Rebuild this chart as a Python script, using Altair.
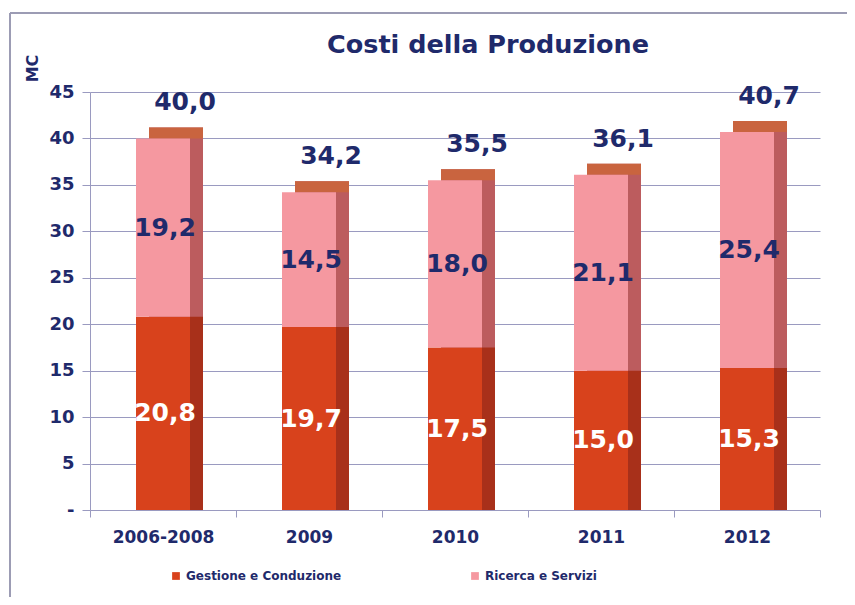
import altair as alt
import pandas as pd

categories = ["2006-2008", "2009", "2010", "2011", "2012"]
gestione = [20.8, 19.7, 17.5, 15.0, 15.3]
ricerca = [19.2, 14.5, 18.0, 21.1, 25.4]
totali = [40.0, 34.2, 35.5, 36.1, 40.7]
series = ["Gestione e Conduzione", "Ricerca e Servizi"]
title_text = "Costi della Produzione"

navy = "#1f2a6b"
grid_c = "#9a9ac0"

rows = []
for c, g, r in zip(categories, gestione, ricerca):
    rows.append(dict(cat=c, serie=series[0], v=g, y0=0.0, y1=g, mid=g / 2))
    rows.append(dict(cat=c, serie=series[1], v=r, y0=g, y1=g + r, mid=g + r / 2))
df = pd.DataFrame(rows)
tot = pd.DataFrame(dict(cat=categories, t=totali,
                        top=[g + r for g, r in zip(gestione, ricerca)]))

W, H = 730, 418
DX, DY = 13, 11

xenc = alt.X("cat:N", sort=categories,
             scale=alt.Scale(paddingInner=0, paddingOuter=0),
             axis=alt.Axis(title=None, labelFontSize=17, labelFontWeight="bold",
                           labelColor=navy, labelFont="DejaVu Sans", tickBand="extent",
                           domainColor=grid_c, tickColor=grid_c, tickSize=7,
                           labelPadding=12, labelAngle=0, grid=False))
yscale = alt.Scale(domain=[0, 45], nice=False)

base = alt.Chart(df)

shadow = base.mark_bar(size=54, xOffset=DX, yOffset=-DY).encode(
    x=xenc,
    y=alt.Y("y1:Q", scale=yscale,
            axis=alt.Axis(title="MC", values=list(range(0, 50, 5)),
                          labelExpr="datum.value == 0 ? '-' : datum.label",
                          labelFontSize=18, labelFontWeight="bold", labelColor=navy,
                          labelFont="DejaVu Sans", labelPadding=8,
                          domainColor=grid_c, tickColor=grid_c, tickSize=8,
                          grid=True, gridColor=grid_c, gridWidth=1,
                          titleAngle=270, titleX=-58, titleY=-24, titleFontSize=16,
                          titleFontWeight="bold", titleColor=navy, titleFont="DejaVu Sans",
                          titleAlign="center", titleBaseline="middle")),
    y2="y0:Q",
    color=alt.Color("serie:N", scale=alt.Scale(domain=series, range=["#a8301a", "#bc5c5e"]),
                    legend=None),
)

cap = alt.Chart(tot).mark_bar(size=54, xOffset=DX, yOffset=-DY, y2Offset=0,
                              color="#c9643f").encode(
    x=alt.X("cat:N", sort=categories),
    y=alt.Y("top:Q"),
    y2="top:Q",
)

front = base.mark_bar(size=54).encode(
    x=alt.X("cat:N", sort=categories),
    y=alt.Y("y1:Q"),
    y2="y0:Q",
    color=alt.Color("serie:N", scale=alt.Scale(domain=series, range=["#d8421c", "#f598a0"]),
                    legend=alt.Legend(title=None, orient="none", legendX=80, legendY=478,
                                      direction="horizontal", symbolType="square",
                                      symbolSize=60, labelFontSize=12,
                                      labelFontWeight="bold", labelColor=navy,
                                      labelFont="DejaVu Sans", columnPadding=127,
                                      labelLimit=400, labelOffset=4,
                                      symbolStrokeWidth=0)),
)

seg_text = base.transform_calculate(
    lab="replace(format(datum.v, '.1f'), '.', ',')"
).mark_text(fontSize=25, fontWeight="bold", font="DejaVu Sans", dx=2).encode(
    x=alt.X("cat:N", sort=categories),
    y=alt.Y("mid:Q"),
    text="lab:N",
    color=alt.Color("serie:N", scale=alt.Scale(domain=series, range=["#ffffff", navy]),
                    legend=None),
)

tot_text = alt.Chart(tot).transform_calculate(
    lab="replace(format(datum.t, '.1f'), '.', ',')"
).mark_text(fontSize=25, fontWeight="bold", font="DejaVu Sans", dx=22, dy=-36,
            color=navy).encode(
    x=alt.X("cat:N", sort=categories),
    y=alt.Y("t:Q"),
    text="lab:N",
)

title = alt.Chart(pd.DataFrame({"t": [title_text]})).mark_text(
    fontSize=25.5, fontWeight="bold", font="DejaVu Sans", color=navy,
    align="center", baseline="alphabetic"
).encode(x=alt.value(398), y=alt.value(-39), text="t:N")

border_top = alt.Chart(tot).mark_rule(stroke="#9c9cb4", strokeWidth=1.5).encode(
    x=alt.value(-80), x2=alt.value(770), y=alt.value(-79)
)
border_left = alt.Chart(tot).mark_rule(stroke="#9c9cb4", strokeWidth=1.5).encode(
    x=alt.value(-80), y=alt.value(-79), y2=alt.value(520)
)

chart = alt.layer(shadow, cap, front, seg_text, tot_text, title, border_top,
                  border_left).resolve_scale(
    color="independent"
).properties(
    width=W, height=H,
    autosize=alt.AutoSizeParams(type="none"),
    padding={"left": 82, "top": 84, "right": 27, "bottom": 87},
).configure_view(stroke=None)

chart.save("out.html", embed_options={"renderer": "svg", "actions": False})
